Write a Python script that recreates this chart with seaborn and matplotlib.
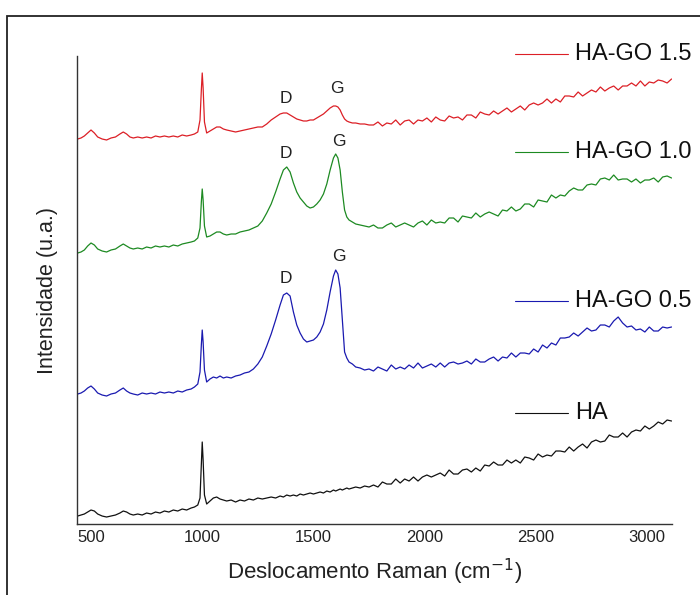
import matplotlib
matplotlib.use("Agg")
import matplotlib.pyplot as plt
import seaborn as sns
import pandas as pd
from matplotlib.patches import Rectangle
from matplotlib.lines import Line2D

# Raman shift grid (cm-1), denser around the peaks
wn_front = [440, 455, 470, 485, 500, 515, 530, 550, 570, 590, 610, 630, 645, 660, 675, 690,
            710, 730, 750, 770, 790, 810, 830, 850, 870, 890, 910, 930, 950, 965, 980, 990,
            996, 1000, 1004, 1010, 1020, 1035, 1050, 1065, 1080, 1095, 1110, 1130, 1150, 1170,
            1190, 1210, 1230, 1250, 1270, 1290, 1310, 1330, 1350, 1365, 1380, 1395, 1410, 1425,
            1440, 1455, 1470, 1485, 1500, 1515, 1530, 1545, 1560, 1575, 1590, 1600, 1610, 1620,
            1630, 1640, 1650, 1660, 1675, 1690, 1710, 1730, 1750]
wn_tail = list(range(1770, 3111, 20))
wavenumber = wn_front + wn_tail

# intensities (a.u.), already stacked with offsets
ha = [4, 5, 6, 8, 10, 9, 6, 4, 3, 4, 5, 7, 9, 8, 6, 5,
      6, 5, 7, 6, 8, 7, 9, 8, 10, 9, 11, 10, 12, 13, 15, 22,
      55, 78, 60, 25, 16, 19, 22, 23, 21, 20, 19, 20, 18, 20,
      19, 21, 20, 22, 21, 22, 23, 22, 24, 23, 25, 24, 25, 24,
      26, 25, 26, 27, 26, 27, 28, 27, 29, 28, 30, 29, 30, 31,
      30, 31, 32, 31, 32, 33, 32, 34, 33,
      35, 33, 38, 36, 36, 41, 37, 41, 39, 43, 39, 43, 45, 43, 45, 47, 44, 50, 46, 46,
      50, 51, 48, 52, 49, 55, 54, 58, 55, 55, 60, 57, 60, 57, 63, 62, 60, 66, 63, 65,
      64, 69, 69, 68, 73, 69, 73, 76, 72, 78, 80, 78, 79, 85, 83, 83, 87, 83, 88, 90,
      89, 94, 91, 94, 98, 96, 100, 99]

ha_go_05 = [126, 127, 129, 132, 134, 131, 127, 125, 124, 126, 127, 130, 132, 129, 127, 126,
            125, 127, 126, 127, 126, 128, 127, 128, 127, 129, 128, 130, 131, 133, 136, 148,
            175, 190, 178, 150, 138, 141, 143, 142, 144, 142, 143, 142, 144, 145,
            147, 148, 151, 156, 163, 174, 186, 200, 215, 225, 227, 224, 208, 195,
            187, 181, 178, 179, 180, 183, 188, 196, 210, 228, 244, 250, 246, 232,
            200, 168, 162, 158, 156, 153, 152, 150, 151,
            149, 153, 151, 149, 155, 151, 153, 151, 155, 152, 157, 152, 154, 156, 153, 157,
            153, 157, 158, 156, 157, 159, 156, 161, 158, 158, 161, 163, 159, 163, 162, 167,
            163, 167, 167, 166, 171, 168, 175, 172, 177, 175, 182, 182, 183, 187, 184, 188,
            192, 189, 190, 195, 195, 193, 199, 203, 197, 193, 194, 190, 191, 188, 193, 189,
            189, 193, 192, 193]

ha_go_10 = [267, 268, 270, 274, 277, 275, 271, 269, 268, 270, 271, 274, 276, 274, 272, 271,
            272, 271, 273, 272, 274, 273, 274, 273, 275, 274, 276, 277, 278, 279, 282, 292,
            318, 331, 320, 294, 283, 284, 286, 288, 288, 286, 285, 286, 286, 288,
            289, 290, 292, 294, 299, 307, 316, 328, 341, 350, 353, 348, 337, 328,
            322, 318, 314, 312, 313, 316, 320, 326, 336, 350, 362, 366, 362, 350,
            328, 310, 303, 300, 298, 296, 295, 294, 293,
            295, 292, 292, 295, 297, 293, 295, 297, 295, 293, 297, 299, 295, 300, 297, 298,
            297, 302, 302, 298, 304, 303, 302, 307, 303, 306, 308, 306, 304, 310, 309, 313,
            309, 311, 316, 316, 313, 320, 319, 318, 325, 322, 325, 324, 329, 332, 330, 330,
            335, 336, 335, 341, 342, 340, 345, 340, 341, 341, 338, 341, 337, 340, 340, 342,
            338, 343, 344, 342]

ha_go_15 = [381, 382, 384, 387, 390, 387, 383, 381, 380, 382, 383, 386, 388, 386, 383, 382,
            383, 382, 383, 382, 384, 383, 384, 383, 384, 383, 385, 384, 385, 386, 388, 400,
            430, 447, 432, 398, 387, 389, 391, 393, 393, 391, 390, 389, 388, 389,
            390, 391, 392, 393, 393, 396, 400, 403, 406, 407, 407, 405, 403, 401,
            400, 399, 399, 400, 400, 402, 404, 406, 409, 412, 414, 414, 413, 410,
            405, 401, 399, 398, 397, 397, 396, 396, 395,
            395, 398, 394, 397, 396, 400, 395, 399, 400, 396, 400, 399, 402, 398, 403, 400,
            399, 404, 402, 403, 400, 405, 405, 402, 408, 406, 405, 409, 406, 409, 412, 408,
            411, 414, 410, 415, 417, 415, 417, 421, 417, 421, 418, 424, 424, 423, 428, 424,
            427, 430, 428, 433, 429, 432, 434, 430, 434, 434, 437, 434, 439, 434, 438, 437,
            440, 439, 437, 441]

sample_names = ["HA", "HA-GO 0.5", "HA-GO 1.0", "HA-GO 1.5"]
sample_values = [ha, ha_go_05, ha_go_10, ha_go_15]
sample_colors = {"HA": "#111111", "HA-GO 0.5": "#1a1ab0",
                 "HA-GO 1.0": "#1d8a22", "HA-GO 1.5": "#dc1f26"}

# D / G band labels: (band, wavenumber, intensity)
band_labels = [("D", 1375, 421), ("G", 1605, 431),
               ("D", 1375, 366), ("G", 1615, 378),
               ("D", 1375, 242), ("G", 1615, 264)]

xtick_values = [500, 1000, 1500, 2000, 2500, 3000]

frames = []
for name, vals in zip(sample_names, sample_values):
    frames.append(pd.DataFrame({"wavenumber": wavenumber, "intensity": vals, "sample": name}))
df = pd.concat(frames, ignore_index=True)

sns.set_style("ticks")
plt.rcParams['font.family'] = ['Liberation Sans', 'DejaVu Sans']

fig = plt.figure(figsize=(7, 5.95), dpi=100)
ax = fig.add_axes([0.11, 0.1193, 0.85, 0.7866])

sns.lineplot(data=df, x="wavenumber", y="intensity", hue="sample", palette=sample_colors,
             linewidth=0.9, legend=False, sort=False, estimator=None, ax=ax)

ax.set_xlim(437, 3112)
ax.set_ylim(-4, 464)
ax.set_xticks(xtick_values)
ax.set_yticks([])
ax.tick_params(axis="x", length=0, pad=4, labelsize=12, colors="#222222")
sns.despine(ax=ax)
for side in ["left", "bottom"]:
    ax.spines[side].set_color("#333333")
    ax.spines[side].set_linewidth(1.0)

ax.set_xlabel("Deslocamento Raman (cm$^{-1}$)", fontsize=16, color="#222222", labelpad=9)
ax.set_ylabel("Intensidade (u.a.)", fontsize=15.5, color="#222222", labelpad=14)

for band, x, y in band_labels:
    ax.text(x, y, band, ha="center", va="center", fontsize=12.5, color="#222222")

# per-curve labels at the right side
label_rows = {"HA-GO 1.5": 1.004, "HA-GO 1.0": 0.795, "HA-GO 0.5": 0.476, "HA": 0.237}
for name, yy in label_rows.items():
    ax.add_line(Line2D([0.736, 0.825], [yy, yy], transform=ax.transAxes,
                       color=sample_colors[name], linewidth=0.8, clip_on=False))
    ax.text(0.837, yy, name, transform=ax.transAxes, ha="left", va="center",
            fontsize=17, color="#111111", clip_on=False)

# outer frame of the original picture
fig.patches.append(Rectangle((0.01, -0.05), 1.2, 1.023, transform=fig.transFigure,
                             fill=False, edgecolor="#222222", linewidth=1.3))

fig.savefig("out.png", dpi=100)
